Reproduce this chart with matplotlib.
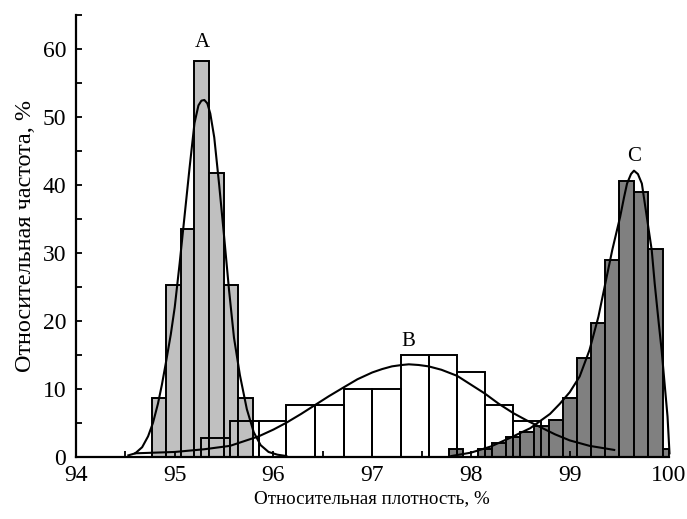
import numpy as np
import matplotlib
matplotlib.use("Agg")
import matplotlib.pyplot as plt

plt.rcParams["font.family"] = ["Liberation Serif", "DejaVu Serif"]

# histogram A: bin edges and relative frequencies, %
a_edges = [94.77, 94.91, 95.06, 95.20, 95.35, 95.50, 95.64, 95.79]
a_heights = [8.7, 25.2, 33.5, 58.3, 41.7, 25.2, 8.7]

# histogram B
b_edges = [95.27, 95.56, 95.85, 96.13, 96.42, 96.71, 97.00, 97.29,
           97.57, 97.86, 98.14, 98.43, 98.71]
b_heights = [2.7, 5.2, 5.2, 7.6, 7.6, 10.0, 10.0, 14.9, 14.9, 12.4, 7.6, 5.2]

# histogram C
c_edges = [97.78, 97.92, 98.07, 98.21, 98.35, 98.50, 98.64, 98.79, 98.93,
           99.07, 99.22, 99.36, 99.50, 99.65, 99.79, 99.94, 100.0]
c_heights = [1.1, 0.0, 1.1, 2.0, 2.9, 3.7, 4.5, 5.4, 8.7, 14.6, 19.7,
             28.9, 40.6, 39.0, 30.6, 1.2]

# fitted curves, points
a_curve_x = [94.53, 94.60, 94.67, 94.73, 94.78, 94.83, 94.87, 94.91, 94.96,
             95.00, 95.05, 95.10, 95.15, 95.20, 95.24, 95.27, 95.30, 95.33,
             95.36, 95.40, 95.45, 95.50, 95.55, 95.60, 95.66, 95.73, 95.80,
             95.87, 95.95, 96.04, 96.13]
a_curve_y = [0.2, 0.5, 1.4, 3.0, 5.0, 7.8, 10.6, 13.8, 18.0, 22.0, 28.5,
             35.5, 42.5, 49.1, 51.7, 52.4, 52.5, 52.0, 50.5, 47.0, 40.0,
             32.4, 24.5, 17.5, 12.0, 7.0, 3.6, 1.7, 0.7, 0.3, 0.1]

b_curve_x = [94.60, 95.00, 95.30, 95.56, 95.85, 96.00, 96.13, 96.28, 96.42,
             96.56, 96.71, 96.85, 97.00, 97.10, 97.20, 97.30, 97.37, 97.47,
             97.57, 97.70, 97.86, 98.00, 98.14, 98.28, 98.43, 98.57, 98.71,
             98.85, 99.00, 99.20, 99.45]
b_curve_y = [0.5, 0.7, 1.1, 1.6, 3.0, 4.0, 5.0, 6.3, 7.6, 8.9, 10.2, 11.4,
             12.4, 12.9, 13.3, 13.5, 13.6, 13.5, 13.3, 12.8, 11.9, 10.6, 9.3,
             7.8, 6.4, 5.3, 4.3, 3.3, 2.4, 1.6, 1.0]

c_curve_x = [97.80, 98.00, 98.20, 98.40, 98.60, 98.80, 98.90, 99.00, 99.10,
             99.20, 99.29, 99.36, 99.43, 99.51, 99.55, 99.58, 99.62, 99.65,
             99.69, 99.73, 99.78, 99.83, 99.86, 99.90, 99.93, 99.96, 99.99,
             100.01]
c_curve_y = [0.1, 0.6, 1.5, 2.8, 4.2, 6.3, 7.8, 9.5, 11.8, 15.7, 20.6, 25.5,
             30.4, 35.3, 38.2, 40.2, 41.6, 42.1, 41.6, 40.2, 35.3, 30.4, 25.5,
             19.8, 15.7, 10.8, 5.9, 0.5]

labels = [("A", 95.28, 60.9), ("B", 97.37, 16.9), ("C", 99.65, 44.2)]


def draw_hist(ax, edges, heights, color, fill=True):
    edges = np.asarray(edges)
    ax.bar(edges[:-1], heights, width=np.diff(edges), align="edge",
           color=color if fill else "none", edgecolor="black",
           linewidth=1.4, fill=fill)


fig = plt.figure(figsize=(6.87, 5.19), dpi=100)
ax = fig.add_axes([0.1106, 0.120, 0.8625, 0.851])

draw_hist(ax, a_edges, a_heights, "#c0c0c0")
draw_hist(ax, c_edges, c_heights, "#808080")
draw_hist(ax, b_edges, b_heights, "white", fill=False)

for cx, cy in [(a_curve_x, a_curve_y), (b_curve_x, b_curve_y),
               (c_curve_x, c_curve_y)]:
    ax.plot(cx, cy, color="black", linewidth=1.5, clip_on=False,
            solid_joinstyle="round")

for text, tx, ty in labels:
    ax.text(tx, ty, text, ha="center", va="center", fontsize=15)

ax.set_xlim(94, 100)
ax.set_ylim(0, 65)
ax.set_xticks(np.arange(94, 100.01, 0.5), minor=True)
ax.set_xticks(range(94, 101))
ax.set_yticks(range(0, 61, 10))
ax.set_yticks(range(0, 66, 5), minor=True)

for side in ("top", "right"):
    ax.spines[side].set_visible(False)
for side in ("left", "bottom"):
    ax.spines[side].set_linewidth(1.6)

ax.tick_params(which="both", direction="in", length=4.5, width=1.3,
               labelsize=17)
ax.tick_params(axis="y", pad=7)
ax.tick_params(axis="x", pad=6)

ax.set_xlabel("Относительная плотность, %", fontsize=13.7, labelpad=3)
ax.set_ylabel("Относительная частота, %", fontsize=17.5)
ax.yaxis.set_label_coords(-0.068, 0.5)

fig.savefig("out.png", dpi=100)
